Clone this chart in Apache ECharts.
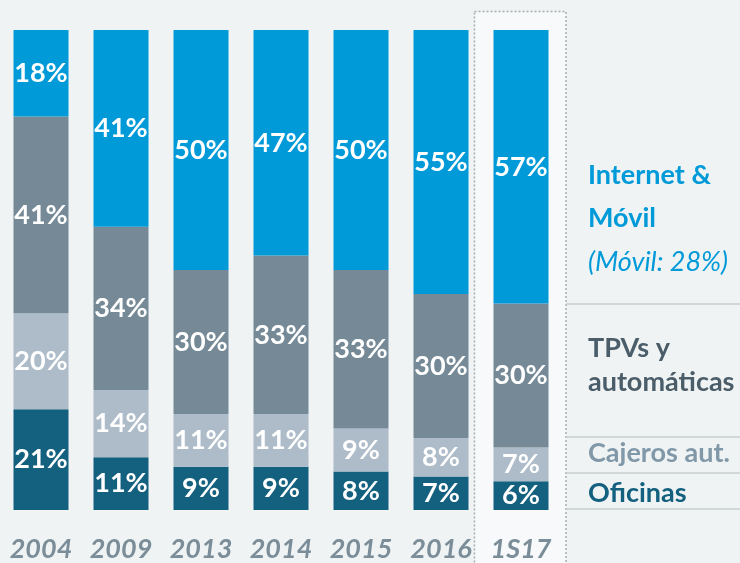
<!DOCTYPE html>
<html>
<head>
<meta charset="utf-8">
<script src="https://cdn.jsdelivr.net/npm/echarts@6/dist/echarts.min.js"></script>
<style>
  html, body { margin: 0; padding: 0; background: #eff3f4; }
  #main { width: 740px; height: 563px; }
</style>
</head>
<body>
<div id="main"></div>
<script>
var categories = ['2004', '2009', '2013', '2014', '2015', '2016', '1S17'];
var oficinas = [21, 11, 9, 9, 8, 7, 6];
var cajeros = [20, 14, 11, 11, 9, 8, 7];
var tpvs = [41, 34, 30, 33, 33, 30, 30];
var internet = [18, 41, 50, 47, 50, 55, 57];

var FONT = 'Lato, "Open Sans", sans-serif';

var myChart = echarts.init(document.getElementById('main'));

function seg(name, data, color) {
  return {
    name: name,
    type: 'bar',
    stack: 'total',
    barWidth: 55,
    data: data,
    itemStyle: { color: color },
    label: {
      show: true,
      position: 'inside',
      formatter: '{c}%',
      color: '#ffffff',
      fontFamily: FONT,
      fontWeight: 'bold',
      fontSize: 27
    },
    z: 5
  };
}

// texto de la leyenda a la derecha
function txt(x, y, s, color, italic) {
  return {
    type: 'text',
    x: x,
    y: y,
    z: 10,
    style: {
      text: s,
      fill: color,
      font: (italic ? 'italic ' : 'bold ') + '27px ' + FONT,
      verticalAlign: 'middle',
      align: 'left'
    }
  };
}

function line(y) {
  return {
    type: 'line',
    z: 1,
    shape: { x1: 566, y1: y, x2: 740, y2: y },
    style: { stroke: '#c9ced1', lineWidth: 1.5 }
  };
}

var option = {
  backgroundColor: '#eff3f4',
  animation: false,
  grid: { left: 1, width: 560, top: 30, bottom: 49 },
  xAxis: {
    type: 'category',
    data: categories,
    axisLine: { show: false },
    axisTick: { show: false },
    axisLabel: {
      interval: 0,
      color: '#7a8d98',
      fontFamily: FONT,
      fontStyle: 'italic',
      fontWeight: 'bold',
      fontSize: 27,
      lineHeight: 27,
      margin: 26
    }
  },
  yAxis: { type: 'value', min: 0, max: 100, show: false },
  series: [
    seg('Oficinas', oficinas, '#14607f'),
    seg('Cajeros aut.', cajeros, '#adbcc8'),
    seg('TPVs y automáticas', tpvs, '#758a96'),
    seg('Internet & Móvil', internet, '#009ad8')
  ],
  graphic: [
    {
      type: 'rect',
      z: 0,
      shape: { x: 474.5, y: 11.5, width: 91.5, height: 570 },
      style: { fill: '#f7f9fa', stroke: '#a9adb0', lineWidth: 1.5, lineDash: [2, 2] }
    },
    line(304), line(437), line(473), line(509),
    txt(588, 175, 'Internet &', '#009ad8'),
    txt(588, 218, 'Móvil', '#009ad8'),
    txt(588, 262, '(Móvil: 28%)', '#009ad8', true),
    txt(588, 348, 'TPVs y', '#4b5d69'),
    txt(588, 382, 'automáticas', '#4b5d69'),
    txt(588, 453, 'Cajeros aut.', '#8198a8'),
    txt(588, 493, 'Oficinas', '#14607f')
  ]
};

myChart.setOption(option);
</script>
</body>
</html>
